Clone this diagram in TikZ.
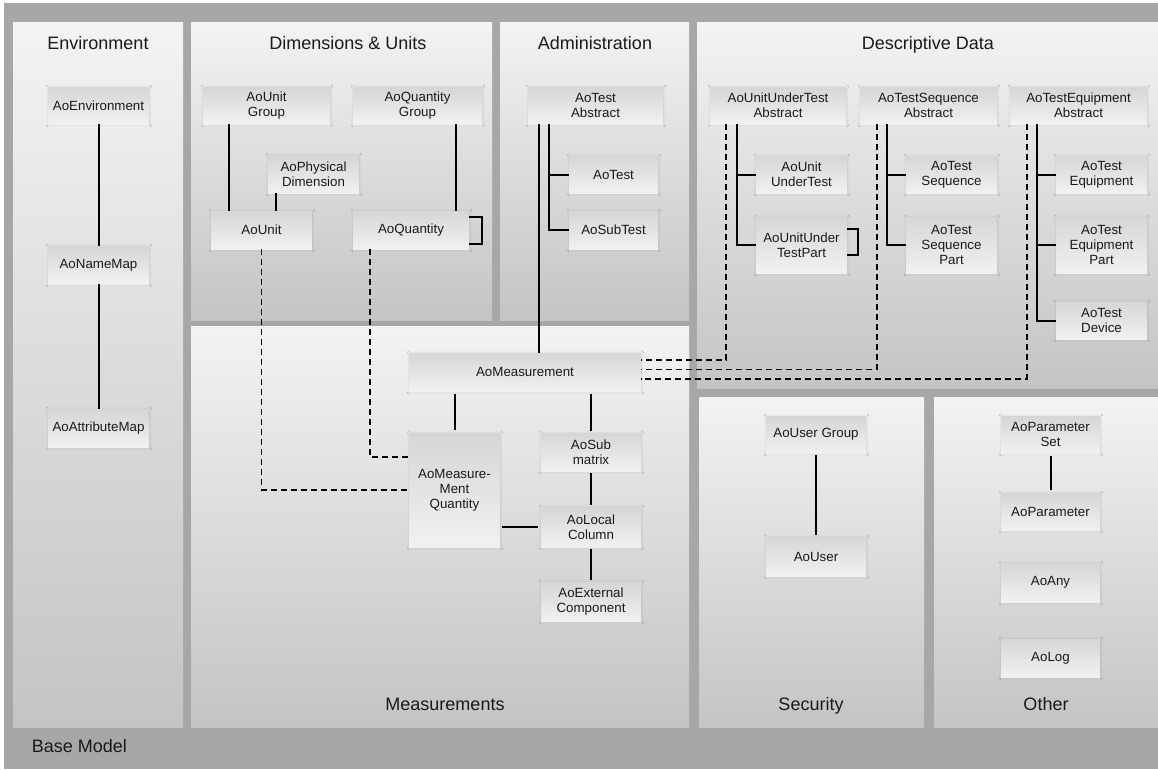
\documentclass[tikz,border=0pt]{standalone}
\usepackage{fontspec}
\setmainfont{Liberation Sans}
\usetikzlibrary{shadows.blur}

\definecolor{basegray}{HTML}{A7A7A7}
\definecolor{paneltop}{HTML}{F3F3F3}
\definecolor{panelbot}{HTML}{C4C4C4}
\definecolor{boxtop}{HTML}{D6D6D6}
\definecolor{boxbot}{HTML}{F1F1F1}
\definecolor{inkc}{HTML}{1A1A1A}

\tikzset{
  panel/.style={top color=paneltop, bottom color=panelbot, draw=none},
  box/.style={rectangle, inner sep=0pt, align=center, text=inkc,
    top color=boxtop, bottom color=boxbot, draw=none,
    blur shadow={shadow xshift=0.3pt, shadow yshift=-0.3pt,
      shadow blur radius=1.8pt, shadow opacity=15},
    font=\fontsize{10}{11.25}\selectfont},
  sz/.style 2 args={minimum width=#1*0.75pt, minimum height=#2*0.75pt},
  link/.style={draw=black, line width=1.5pt},
  dlink/.style={draw=black, line width=1.4pt, dash pattern=on 4.5pt off 3pt},
  ttl/.style={anchor=base, inner sep=0pt, text=inkc,
    font=\fontsize{13.5}{16}\selectfont},
}

\begin{document}
\begin{tikzpicture}[x=0.75pt, y=-0.75pt]
\useasboundingbox (0,0) rectangle (1158,769);

% base model frame
\fill[basegray] (4,3) rectangle (1158,769);
\node[ttl, anchor=base west] (tBase) at (31.5,752.5) {Base Model};

% packages
\path[panel] (13,22) rectangle (183,727);
\path[panel] (191,22) rectangle (492,320);
\path[panel] (500,22) rectangle (689,320);
\path[panel] (697,22) rectangle (1158,388);
\path[panel] (191,326) rectangle (689,727);
\path[panel] (699,397) rectangle (924,727);
\path[panel] (934,397) rectangle (1158,727);

\node[ttl] (tEnv)  at (98,49)    {Environment};
\node[ttl] (tDim)  at (348,49)   {Dimensions \& Units};
\node[ttl] (tAdm)  at (595,49)   {Administration};
\node[ttl] (tDesc) at (928,49)   {Descriptive Data};
\node[ttl] (tMeas) at (445,710)  {Measurements};
\node[ttl] (tSec)  at (811,710)  {Security};
\node[ttl] (tOth)  at (1046,710) {Other};

% Environment
\node[box, sz={101}{37}] (env) at (98.5,105.5) {AoEnvironment};
\node[box, sz={101}{38}] (nm)  at (98.5,265)   {AoNameMap};
\node[box, sz={101}{38}] (am)  at (98.5,428)   {AoAttributeMap};

% Dimensions & Units
\node[box, sz={127}{37}] (ug) at (266.5,105.5) {AoUnit\\Group};
\node[box, sz={129}{37}] (qg) at (417.5,105.5) {AoQuantity\\Group};
\node[box, sz={91}{38}]  (pd) at (313.5,174)   {AoPhysical\\Dimension};
\node[box, sz={101}{38}] (u)  at (261.5,230)   {AoUnit};
\node[box, sz={116}{38}] (q)  at (411,230)     {AoQuantity};

% Administration
\node[box, sz={135}{37}] (ta) at (595.5,105.5) {AoTest\\Abstract};
\node[box, sz={89}{37}]  (t)  at (613.5,174.5) {AoTest};
\node[box, sz={89}{38}]  (st) at (613.5,230)   {AoSubTest};

% Descriptive Data
\node[box, sz={136}{37}] (uuta) at (778,105.5)    {AoUnitUnderTest\\Abstract};
\node[box, sz={137}{37}] (tsa)  at (928.5,105.5)  {AoTestSequence\\Abstract};
\node[box, sz={137}{37}] (tea)  at (1078.5,105.5) {AoTestEquipment\\Abstract};
\node[box, sz={91}{37}]  (uut)  at (801.5,174.5)  {AoUnit\\UnderTest};
\node[box, sz={91}{56}]  (uutp) at (801.5,245)    {AoUnitUnder\\TestPart};
\node[box, sz={91}{37}]  (ts)   at (951.5,174.5)  {AoTest\\Sequence};
\node[box, sz={91}{56}]  (tsp)  at (951.5,245)    {AoTest\\Sequence\\Part};
\node[box, sz={91}{37}]  (te)   at (1101.5,174.5) {AoTest\\Equipment};
\node[box, sz={91}{56}]  (tep)  at (1101.5,245)   {AoTest\\Equipment\\Part};
\node[box, sz={91}{37}]  (td)   at (1101.5,320.5) {AoTest\\Device};

% Measurements
\node[box, sz={232}{38}] (m)  at (525,372)    {AoMeasurement};
\node[box, sz={91}{114}] (mq) at (454.5,490)  {AoMeasure-\\Ment\\Quantity};
\node[box, sz={100}{38}] (sm) at (591,452)    {AoSub\\matrix};
\node[box, sz={100}{40}] (lc) at (591,527)    {AoLocal\\Column};
\node[box, sz={100}{39}] (ec) at (591,601.5)  {AoExternal\\Component};

% Security
\node[box, sz={100}{37}] (ugp) at (816,434.5) {AoUser Group};
\node[box, sz={100}{39}] (usr) at (816,556.5) {AoUser};

% Other
\node[box, sz={99}{37}] (ps)  at (1050.5,434.5) {AoParameter\\Set};
\node[box, sz={99}{37}] (par) at (1050.5,511.5) {AoParameter};
\node[box, sz={99}{39}] (any) at (1050.5,582.5) {AoAny};
\node[box, sz={99}{38}] (log) at (1050.5,658)   {AoLog};

% connector rails
\coordinate (xUG) at (229,0);
\coordinate (xPD) at (276,0);
\coordinate (xQG) at (455.7,0);
\coordinate (xTA) at (549,0);
\coordinate (xTM) at (539,0);
\coordinate (xU1) at (736.7,0);
\coordinate (xS1) at (886.7,0);
\coordinate (xE1) at (1036.7,0);
\coordinate (dQ)  at (370,457);
\coordinate (d1)  at (726,360);
\coordinate (d2)  at (876.7,369.5);
\coordinate (d3)  at (1026.7,379);

% solid associations
\draw[link] (env) -- (nm);
\draw[link] (nm) -- (am);
\draw[link] (ug.south -| xUG) -- (u.north -| xUG);
\draw[link] (pd.south -| xPD) -- (u.north -| xPD);
\draw[link] (qg.south -| xQG) -- (q.north -| xQG);
\draw[link] (q.east |- 0,217) -| (482,244) -- (q.east |- 0,244);

\draw[link] (ta.south -| xTA) |- (t.west);
\draw[link] (ta.south -| xTA) |- (st.west);
\draw[link] (ta.south -| xTM) -- (m.north -| xTM);

\draw[link] (uuta.south -| xU1) |- (uut.west);
\draw[link] (uuta.south -| xU1) |- (uutp.west);
\draw[link] (uutp.east |- 0,229) -| (858,255) -- (uutp.east |- 0,255);
\draw[link] (tsa.south -| xS1) |- (ts.west);
\draw[link] (tsa.south -| xS1) |- (tsp.west);
\draw[link] (tea.south -| xE1) |- (te.west);
\draw[link] (tea.south -| xE1) |- (tep.west);
\draw[link] (tea.south -| xE1) |- (td.west);

\draw[link, shorten <=2pt, shorten >=2pt] (m.south -| mq.north) -- (mq.north);
\draw[link, shorten <=2pt, shorten >=1.5pt] (m.south -| sm.north) -- (sm.north);
\draw[link, shorten <=1.5pt, shorten >=1.5pt] (sm) -- (lc);
\draw[link, shorten <=1.5pt, shorten >=1.5pt] (lc) -- (ec);
\draw[link, shorten <=1.5pt, shorten >=2pt] (mq.east |- lc.west) -- (lc.west);

\draw[link, shorten <=1pt, shorten >=1pt] (ugp) -- (usr);
\draw[link, shorten <=2pt, shorten >=2pt] (ps) -- (par);

% dashed references
\draw[dlink] (u.south) |- (mq.west);
\draw[dlink] (q.south -| dQ) |- (mq.west |- dQ);
\draw[dlink] (uuta.south -| d1) |- (m.east |- d1);
\draw[dlink] (tsa.south -| d2) |- (m.east |- d2);
\draw[dlink] (tea.south -| d3) |- (m.east |- d3);
\end{tikzpicture}
\end{document}
